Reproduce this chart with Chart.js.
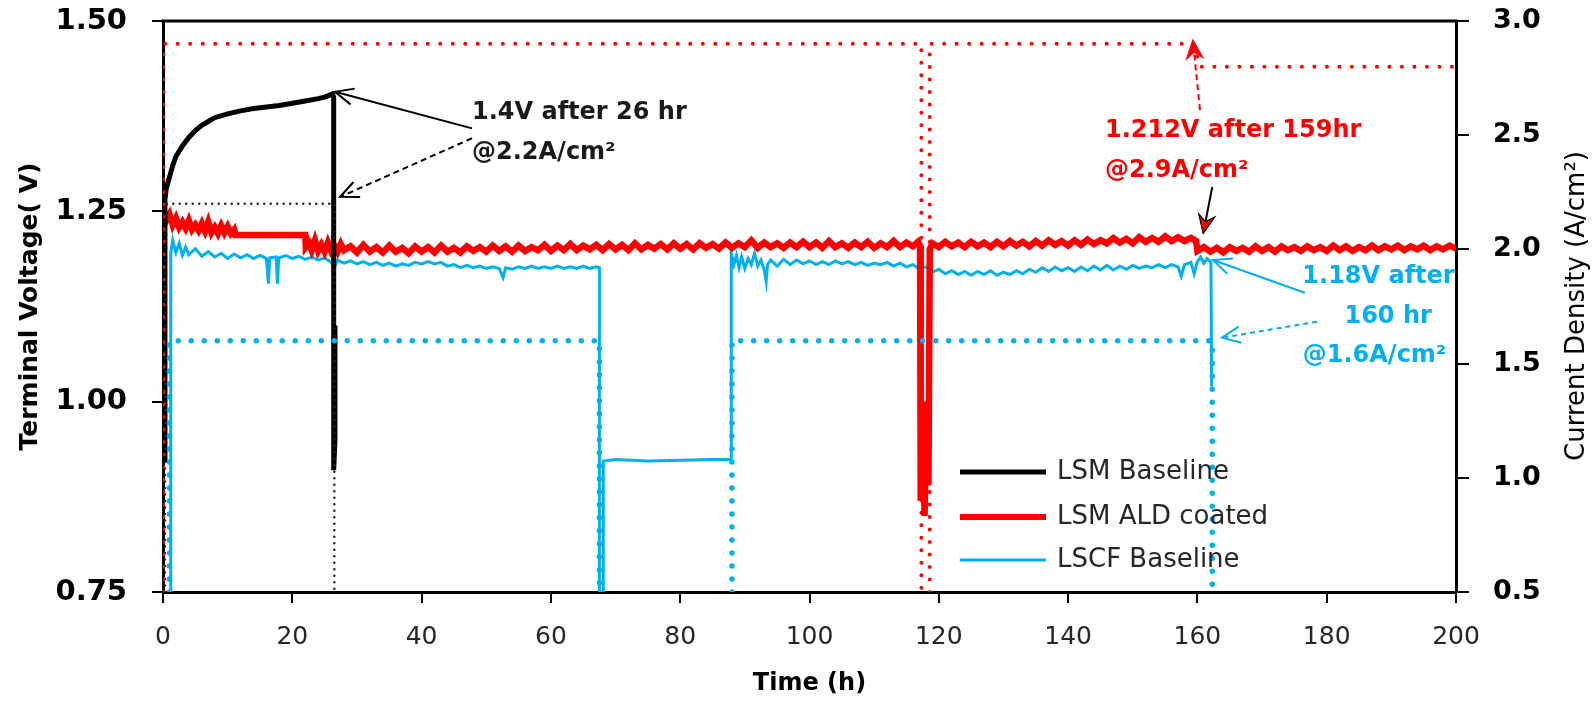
<!DOCTYPE html>
<html lang="en">
<head>
<meta charset="UTF-8">
<title>Terminal voltage vs time</title>
<script src="https://cdn.jsdelivr.net/npm/chart.js@4.4.1/dist/chart.umd.min.js"></script>
<style>
  html, body { margin: 0; padding: 0; background: #fff; }
  #wrap { width: 1593px; height: 703px; position: relative; }
</style>
</head>
<body>
<div id="wrap"><canvas id="chart"></canvas></div>
<script>
    // ---- data ----
    const seriesNames = ['LSM Baseline', 'LSM ALD coated', 'LSCF Baseline'];
    const timeTicks = [0, 20, 40, 60, 80, 100, 120, 140, 160, 180, 200];
    const voltTicks = [0.75, 1.00, 1.25, 1.50];
    const currentTicks = [0.5, 1.0, 1.5, 2.0, 2.5, 3.0];

    // LSM Baseline, terminal voltage (V)
    const lsmTime = [0.3, 0.3, 0.5, 1, 1.5, 2, 3, 4, 5, 6, 7, 8, 10, 12, 14, 16, 18, 20, 22, 24, 25, 26.2, 26.4, 26.4, 26.6, 26.6];
    const lsmVolt = [0.92, 1.265, 1.28, 1.295, 1.31, 1.322, 1.336, 1.347, 1.356, 1.363, 1.368, 1.373, 1.378, 1.382, 1.385, 1.387, 1.389, 1.392, 1.395, 1.398, 1.400, 1.404, 1.400, 0.91, 0.95, 1.10];

    // LSM ALD coated, terminal voltage (V)
    const aldTime = [
        0.1, 0.1, 0.5, 1, 1.5, 2, 2.5, 3, 3.5, 4,
        4.5, 5, 5.5, 6, 6.5, 7, 7.5, 8, 8.5, 9,
        9.5, 10, 10.5, 11, 11.2, 22, 22.1, 22.6, 23, 23.5,
        24, 24.5, 25, 25.5, 26, 26.5, 27, 27.5, 28, 29,
        30, 31, 32, 33, 34, 35, 36, 37, 38, 39,
        40, 41, 42, 43, 44, 45, 46, 47, 48, 49,
        50, 51, 52, 53, 54, 55, 56, 57, 58, 59,
        60, 61, 62, 63, 64, 65, 66, 67, 68, 69,
        70, 71, 72, 73, 74, 75, 76, 77, 78, 79,
        80, 81, 82, 83, 84, 85, 86, 87, 88, 89,
        90, 91, 92, 93, 94, 95, 96, 97, 98, 99,
        100, 101, 102, 103, 104, 105, 106, 107, 108, 109,
        110, 111, 112, 113, 114, 115, 116,
        116.8, 117.1, 117.2, 117.5, 117.8, 118.1, 118.4, 118.6, 119, 120,
        121, 122, 123, 124, 125, 126, 127, 128, 129, 130,
        131, 132, 133, 134, 135, 136, 137, 138, 139, 140,
        141, 142, 143, 144, 145, 146, 147, 148, 149, 150,
        151, 152, 153, 154, 155, 156, 157, 158, 159,
        159.8, 160,
        161, 162, 163, 164, 165, 166, 167, 168, 169, 170,
        171, 172, 173, 174, 175, 176, 177, 178, 179, 180,
        181, 182, 183, 184, 185, 186, 187, 188, 189, 190,
        191, 192, 193, 194, 195, 196, 197, 198, 199, 200
    ];
    const aldVolt = [
        0.92, 1.245, 1.238, 1.246, 1.232, 1.241, 1.229, 1.236, 1.228, 1.238,
        1.226, 1.232, 1.225, 1.234, 1.224, 1.236, 1.222, 1.229, 1.221, 1.231,
        1.222, 1.230, 1.221, 1.226, 1.219, 1.219, 1.203, 1.208, 1.199, 1.212,
        1.198, 1.206, 1.197, 1.209, 1.198, 1.205, 1.197, 1.207, 1.199, 1.204,
        1.196, 1.206, 1.197, 1.203, 1.196, 1.205, 1.197, 1.202, 1.195, 1.204,
        1.197, 1.203, 1.196, 1.205, 1.197, 1.202, 1.196, 1.204, 1.198, 1.203,
        1.197, 1.205, 1.198, 1.204, 1.197, 1.205, 1.198, 1.203, 1.199, 1.206,
        1.198, 1.205, 1.199, 1.207, 1.199, 1.205, 1.200, 1.206, 1.199, 1.207,
        1.200, 1.206, 1.199, 1.208, 1.200, 1.206, 1.201, 1.207, 1.200, 1.208,
        1.201, 1.207, 1.200, 1.208, 1.202, 1.207, 1.201, 1.209, 1.202, 1.208,
        1.203, 1.212, 1.202, 1.209, 1.203, 1.208, 1.202, 1.209, 1.203, 1.210,
        1.203, 1.209, 1.202, 1.211, 1.203, 1.208, 1.202, 1.209, 1.203, 1.210,
        1.202, 1.208, 1.203, 1.211, 1.203, 1.209, 1.204,
        1.210, 1.205, 0.87, 0.98, 0.85, 1.00, 0.89, 1.20, 1.208, 1.203,
        1.210, 1.204, 1.209, 1.203, 1.210, 1.204, 1.209, 1.203, 1.210, 1.204,
        1.211, 1.205, 1.210, 1.204, 1.211, 1.205, 1.212, 1.206, 1.211, 1.205,
        1.212, 1.206, 1.213, 1.207, 1.212, 1.208, 1.215, 1.209, 1.214, 1.208,
        1.216, 1.210, 1.215, 1.210, 1.217, 1.211, 1.216, 1.211, 1.215,
        1.211, 1.198,
        1.203, 1.197, 1.202, 1.196, 1.203, 1.198, 1.202, 1.197, 1.204, 1.198,
        1.203, 1.197, 1.204, 1.199, 1.203, 1.198, 1.204, 1.199, 1.203, 1.198,
        1.205, 1.199, 1.204, 1.198, 1.203, 1.199, 1.205, 1.199, 1.204, 1.200,
        1.205, 1.199, 1.204, 1.200, 1.205, 1.199, 1.204, 1.200, 1.205, 1.201
    ];

    // LSCF Baseline, terminal voltage (V)
    const lscfTime = [
        1.2, 1.2, 1.5, 2, 2.5, 3, 3.5, 4, 5, 6,
        7, 8, 9, 10, 11, 12, 13, 14, 15, 16,
        16.3, 16.5, 17.5, 17.7, 17.9, 19, 20, 21, 22, 23,
        24, 25, 26, 26.5, 27, 28, 29, 30, 31, 32,
        33, 34, 35, 36, 37, 38, 39, 40, 41, 42,
        43, 44, 45, 46, 47, 48, 49, 50, 51, 52,
        52.6, 53, 54, 55, 56, 57, 58, 59, 60, 61,
        62, 63, 64, 65, 66, 67, 67.5, 67.5, 68.1, 68.1,
        70, 75, 80, 85, 87.9, 87.9, 88.3, 88.7, 89.1, 89.5,
        90, 90.5, 91, 91.5, 92, 92.5, 93, 93.3, 93.5, 94,
        95, 96, 97, 98, 99, 100, 101, 102, 103, 104,
        105, 106, 107, 108, 109, 110, 111, 112, 113, 114,
        115, 116, 117, 118, 119, 120, 121, 122, 123, 124,
        125, 126, 127, 128, 129, 130, 131, 132, 133, 134,
        135, 136, 137, 138, 139, 140, 141, 142, 143, 144,
        145, 146, 147, 148, 149, 150, 151, 152, 153, 154,
        155, 156, 157, 157.5, 158, 159, 159.5, 160, 160.5, 161,
        161.5, 162.1, 162.2
    ];
    const lscfVolt = [
        0.75, 1.195, 1.212, 1.196, 1.208, 1.192, 1.203, 1.193, 1.201, 1.191,
        1.197, 1.190, 1.195, 1.188, 1.194, 1.189, 1.193, 1.188, 1.192, 1.188,
        1.155, 1.189, 1.190, 1.155, 1.189, 1.192, 1.188, 1.191, 1.187, 1.190,
        1.186, 1.189, 1.183, 1.176, 1.186, 1.182, 1.185, 1.181, 1.184, 1.180,
        1.183, 1.179, 1.182, 1.178, 1.181, 1.179, 1.183, 1.181, 1.184, 1.181,
        1.183, 1.178, 1.180, 1.176, 1.179, 1.176, 1.178, 1.175, 1.177, 1.175,
        1.163, 1.176, 1.174, 1.177, 1.175, 1.178, 1.175, 1.177, 1.175, 1.178,
        1.175, 1.177, 1.175, 1.178, 1.175, 1.177, 1.176, 0.75, 0.75, 0.922,
        0.924, 0.922, 0.923, 0.924, 0.924, 1.195, 1.180, 1.192, 1.176, 1.190,
        1.175, 1.188, 1.180, 1.195, 1.178, 1.186, 1.173, 1.158, 1.180, 1.186,
        1.178, 1.187, 1.180, 1.186, 1.181, 1.185, 1.180, 1.184, 1.180, 1.185,
        1.181, 1.184, 1.180, 1.183, 1.179, 1.182, 1.180, 1.183, 1.178, 1.182,
        1.177, 1.180, 1.174, 1.177, 1.170, 1.174, 1.168, 1.172, 1.167, 1.171,
        1.166, 1.171, 1.167, 1.172, 1.166, 1.170, 1.167, 1.172, 1.168, 1.174,
        1.170, 1.176, 1.171, 1.177, 1.172, 1.176, 1.171, 1.177, 1.172, 1.178,
        1.173, 1.179, 1.173, 1.178, 1.174, 1.179, 1.175, 1.178, 1.176, 1.180,
        1.176, 1.180, 1.177, 1.165, 1.180, 1.183, 1.168, 1.184, 1.190, 1.182,
        1.188, 1.183, 1.020
    ];

    // current density (A/cm2), dotted lines; null breaks the line
    const lsmCurTime = [0.3, 0.3, 26.5, 26.5];
    const lsmCur = [0.5, 2.2, 2.2, 0.5];
    const aldCurTime = [0.05, 0.05, 117.3, 117.3, 117.9, 118.6, 118.6, 159.4, 160.4, 200];
    const aldCur = [0.5, 2.9, 2.9, 0.5, null, 0.5, 2.9, 2.9, 2.8, 2.8];
    const lscfCurTime = [1.0, 1.0, 67.5, 67.5, 77, 88, 88, 162.3, 162.3];
    const lscfCur = [0.5, 1.6, 1.6, 0.5, null, 0.5, 1.6, 1.6, 0.5];

    const colors = ['#000000', '#ff0000', '#00b0f0'];

    // callouts, in data units (time, voltage)
    const arrows = [
        { from: [47.8, 1.359], to: [26.6, 1.407], color: '#000', dash: [], head: 'open' },
        { from: [47.8, 1.346], to: [27.4, 1.269], color: '#000', dash: [6, 4], head: 'open' },
        { from: [160.4, 1.383], to: [159.3, 1.475], color: '#ff0000', dash: [6, 4], head: 'filled' },
        { from: [162.3, 1.282], to: [160.9, 1.221], color: '#000', dash: [], head: 'filled', fill: '#ff0000' },
        { from: [176.6, 1.143], to: [162.4, 1.186], color: '#00b0f0', dash: [], head: 'open' },
        { from: [178.5, 1.105], to: [163.8, 1.084], color: '#00b0f0', dash: [5, 4], head: 'open' }
    ];
    const notes = [
        { text: '1.4V after 26 hr', at: [47.8, 1.380], align: 'left', color: '#1a1a1a' },
        { text: '@2.2A/cm²', at: [47.8, 1.327], align: 'left', color: '#1a1a1a' },
        { text: '1.212V after 159hr', at: [145.7, 1.3555], align: 'left', color: '#ff0000' },
        { text: '@2.9A/cm²', at: [145.7, 1.303], align: 'left', color: '#ff0000' },
        { text: '1.18V after', at: [199.8, 1.1637], align: 'right', color: '#00b0f0' },
        { text: '160 hr', at: [189.5, 1.111], align: 'center', color: '#00b0f0' },
        { text: '@1.6A/cm²', at: [176.3, 1.060], align: 'left', color: '#00b0f0' }
    ];

    function pts(t, v) {
        return t.map((x, i) => ({ x: x, y: v[i] }));
    }

    function drawHead(ctx, x1, y1, x2, y2, ar) {
        const ang = Math.atan2(y2 - y1, x2 - x1);
        const len = 20, spread = 0.42;
        const p1 = [x2 - len * Math.cos(ang - spread), y2 - len * Math.sin(ang - spread)];
        const p2 = [x2 - len * Math.cos(ang + spread), y2 - len * Math.sin(ang + spread)];
        ctx.setLineDash([]);
        ctx.beginPath();
        if (ar.head === 'filled') {
            const n = [x2 - len * 0.6 * Math.cos(ang), y2 - len * 0.6 * Math.sin(ang)];
            ctx.moveTo(x2, y2);
            ctx.lineTo(p1[0], p1[1]);
            ctx.lineTo(n[0], n[1]);
            ctx.lineTo(p2[0], p2[1]);
            ctx.closePath();
            ctx.fillStyle = ar.fill || ar.color;
            ctx.fill();
            ctx.lineWidth = 1.2;
            ctx.stroke();
        } else {
            ctx.moveTo(p1[0], p1[1]);
            ctx.lineTo(x2, y2);
            ctx.lineTo(p2[0], p2[1]);
            ctx.stroke();
        }
    }

    const overlay = {
        id: 'overlay',
        afterDraw(chart) {
            const ctx = chart.ctx;
            const a = chart.chartArea;
            const x = chart.scales.x, y = chart.scales.y;
            ctx.save();

            // top edge of the frame
            ctx.strokeStyle = '#000';
            ctx.lineWidth = 3;
            ctx.beginPath();
            ctx.moveTo(a.left - 1.5, a.top);
            ctx.lineTo(a.right + 1.5, a.top);
            ctx.stroke();

            // arrows
            arrows.forEach(ar => {
                const x1 = x.getPixelForValue(ar.from[0]), y1 = y.getPixelForValue(ar.from[1]);
                const x2 = x.getPixelForValue(ar.to[0]), y2 = y.getPixelForValue(ar.to[1]);
                ctx.strokeStyle = ar.color;
                ctx.lineWidth = 2;
                ctx.setLineDash(ar.dash);
                ctx.beginPath();
                ctx.moveTo(x1, y1);
                ctx.lineTo(x2, y2);
                ctx.stroke();
                drawHead(ctx, x1, y1, x2, y2, ar);
            });

            // callout text
            ctx.font = "bold 24px 'DejaVu Sans'";
            ctx.textBaseline = 'middle';
            notes.forEach(n => {
                ctx.fillStyle = n.color;
                ctx.textAlign = n.align;
                ctx.fillText(n.text, x.getPixelForValue(n.at[0]), y.getPixelForValue(n.at[1]));
            });

            // legend inside the plot
            const rows = [472, 517, 560];
            const widths = [5, 6, 3];
            ctx.font = "26px 'DejaVu Sans'";
            ctx.textAlign = 'left';
            seriesNames.forEach((name, i) => {
                ctx.strokeStyle = colors[i];
                ctx.lineWidth = widths[i];
                ctx.beginPath();
                ctx.moveTo(960, rows[i]);
                ctx.lineTo(1046, rows[i]);
                ctx.stroke();
                ctx.fillStyle = '#262626';
                ctx.fillText(name, 1057, rows[i]);
            });

            // right axis title, reading bottom to top
            ctx.translate(1577, 306);
            ctx.rotate(-Math.PI / 2);
            ctx.font = "26px 'DejaVu Sans'";
            ctx.textAlign = 'center';
            ctx.fillStyle = '#000';
            ctx.fillText('Current Density (A/cm²)', 0, 0);

            ctx.restore();
        }
    };

    Chart.defaults.font.family = "'DejaVu Sans', sans-serif";

    function fixV(w) {
        return s => { s.width = w; s.paddingTop = 0; s.paddingBottom = 0; };
    }

    const ctx = document.getElementById('chart');
    new Chart(ctx, {
        type: 'line',
        data: {
            datasets: [
                { label: 'LSCF Baseline current', data: pts(lscfCurTime, lscfCur), yAxisID: 'y1',
                  borderColor: colors[2], borderWidth: 5.5, borderDash: [0.001, 13], borderCapStyle: 'round' },
                { label: 'LSM ALD coated current', data: pts(aldCurTime, aldCur), yAxisID: 'y1',
                  borderColor: colors[1], borderWidth: 4, borderDash: [0.001, 12.5], borderCapStyle: 'round' },
                { label: 'LSM Baseline current', data: pts(lsmCurTime, lsmCur), yAxisID: 'y1',
                  borderColor: '#222', borderWidth: 2.5, borderDash: [0.001, 6.5], borderCapStyle: 'round' },
                { label: seriesNames[0], data: pts(lsmTime, lsmVolt), yAxisID: 'y',
                  borderColor: colors[0], borderWidth: 5 },
                { label: seriesNames[1], data: pts(aldTime, aldVolt), yAxisID: 'y',
                  borderColor: colors[1], borderWidth: 6.5 },
                { label: seriesNames[2], data: pts(lscfTime, lscfVolt), yAxisID: 'y',
                  borderColor: colors[2], borderWidth: 3 }
            ]
        },
        options: {
            responsive: true,
            maintainAspectRatio: false,
            animation: false,
            devicePixelRatio: 1,
            layout: { padding: { top: 21, left: 0, right: 0, bottom: 0 } },
            elements: { point: { radius: 0 }, line: { tension: 0 } },
            plugins: { legend: { display: false }, tooltip: { enabled: false } },
            scales: {
                x: {
                    type: 'linear', min: 0, max: 200, z: 1,
                    afterBuildTicks: s => { s.ticks = timeTicks.map(v => ({ value: v })); },
                    afterFit: s => { s.height = 111; s.paddingLeft = 0; s.paddingRight = 0; },
                    grid: { drawOnChartArea: false, drawTicks: true, tickLength: 11, color: '#000', lineWidth: 2 },
                    border: { display: true, color: '#000', width: 3 },
                    ticks: { font: { size: 25 }, color: '#262626', padding: 19, maxRotation: 0 },
                    title: { display: true, text: 'Time (h)', color: '#000',
                             font: { size: 24, weight: 'bold' }, padding: { top: 0, bottom: 5 } }
                },
                y: {
                    type: 'linear', position: 'left', min: 0.75, max: 1.5, z: 1,
                    afterBuildTicks: s => { s.ticks = voltTicks.map(v => ({ value: v })); },
                    afterFit: fixV(163),
                    grid: { drawOnChartArea: false, drawTicks: true, tickLength: 11, color: '#000', lineWidth: 2 },
                    border: { display: true, color: '#000', width: 3 },
                    ticks: { font: { size: 29, weight: 'bold' }, color: '#000', padding: 25,
                             callback: v => v.toFixed(2) },
                    title: { display: true, text: 'Terminal Voltage( V)', color: '#000',
                             font: { size: 25, weight: 'bold' }, padding: { top: 15, bottom: 0 } }
                },
                y1: {
                    type: 'linear', position: 'right', min: 0.5, max: 3.0, z: 1,
                    afterBuildTicks: s => { s.ticks = currentTicks.map(v => ({ value: v })); },
                    afterFit: fixV(137),
                    grid: { drawOnChartArea: false, drawTicks: true, tickLength: 13, color: '#000', lineWidth: 2 },
                    border: { display: true, color: '#000', width: 3 },
                    ticks: { font: { size: 27, weight: 'bold' }, color: '#000', padding: 24,
                             callback: v => v.toFixed(1) }
                }
            }
        },
        plugins: [overlay]
    });
</script>
</body>
</html>
